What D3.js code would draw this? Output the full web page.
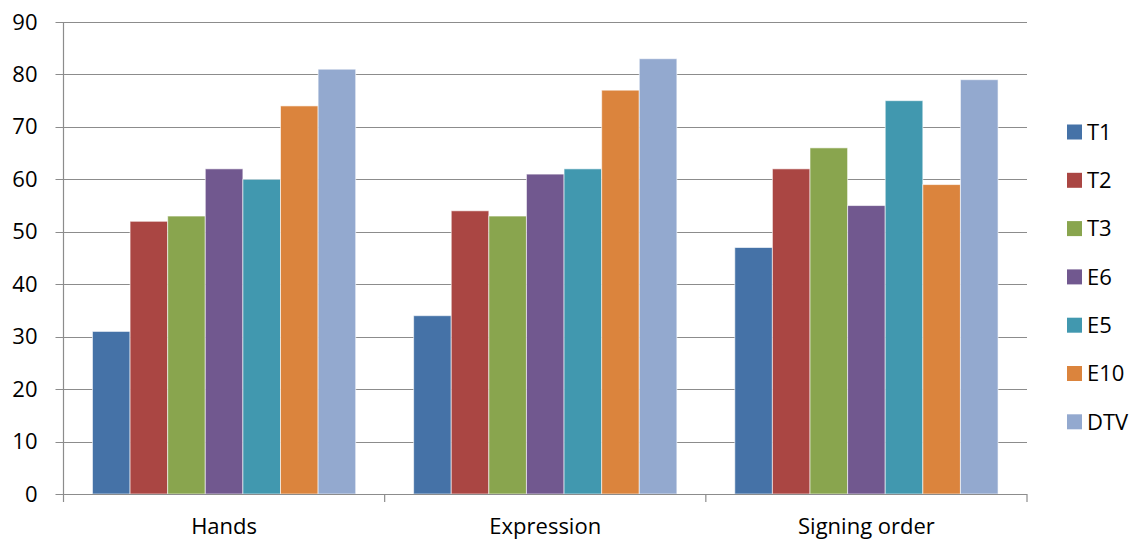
<!DOCTYPE html>
<html><head><meta charset="utf-8">
<script src="https://cdn.jsdelivr.net/npm/d3@7"></script>
<style>body{margin:0;background:#fff}svg{display:block}text{font-family:"Open Sans",Lato,sans-serif;fill:#000}</style>
</head><body><svg id="c" width="1138" height="544"></svg>
<script>
const categories = ["Hands", "Expression", "Signing order"];
const seriesNames = ["T1", "T2", "T3", "E6", "E5", "E10", "DTV"];
const T1 = [31, 34, 47];
const T2 = [52, 54, 62];
const T3 = [53, 53, 66];
const E6 = [62, 61, 55];
const E5 = [60, 62, 75];
const E10 = [74, 77, 59];
const DTV = [81, 83, 79];
const colors = ["#4572A7", "#AA4643", "#89A54E", "#71588F", "#4198AF", "#DB843D", "#93A9CF"];
const yTicks = [0, 10, 20, 30, 40, 50, 60, 70, 80, 90];

const seriesVals = [T1, T2, T3, E6, E5, E10, DTV];
const FONT = "22px";
const svg = d3.select("#c");
const L = 63.5, R = 1027, T = 22, B = 494;
const x0 = d3.scaleBand().domain(categories).range([L, R]).paddingInner(0).paddingOuter(0);
const x1 = d3.scaleBand().domain(seriesNames).range([0, x0.bandwidth()]).paddingOuter(0.77).paddingInner(0);
const y = d3.scaleLinear().domain([0, 90]).range([B, T]);

// gridlines
svg.append("g").selectAll("line").data(yTicks).join("line")
  .attr("x1", L - 8).attr("x2", R).attr("y1", d => Math.round(y(d)) + 0.5).attr("y2", d => Math.round(y(d)) + 0.5)
  .attr("stroke", "#8c8c8c").attr("stroke-width", 1.2);

// y axis labels
const ya = svg.append("g").attr("transform", `translate(${L},0)`)
  .call(d3.axisLeft(y).tickValues(yTicks).tickSize(0).tickPadding(26));
ya.select(".domain").remove();
ya.selectAll("text").style("font-size", FONT).style("font-family", "Open Sans").attr("fill", "#000");

// bars
const groups = svg.append("g").selectAll("g").data(categories).join("g")
  .attr("transform", c => `translate(${x0(c)},0)`);
groups.selectAll("rect").data((c, ci) => seriesNames.map((s, si) => ({s, si, v: seriesVals[si][ci]})))
  .join("rect")
  .attr("x", d => x1(d.s)).attr("width", x1.bandwidth())
  .attr("y", d => y(d.v)).attr("height", d => y(0) - y(d.v))
  .attr("fill", d => colors[d.si])
  .attr("stroke", "rgba(255,255,255,0.6)").attr("stroke-width", 1);

// axes lines
svg.append("line").attr("x1", L).attr("x2", L).attr("y1", T).attr("y2", B).attr("stroke", "#8c8c8c").attr("stroke-width", 1.2);
svg.append("line").attr("x1", L).attr("x2", R).attr("y1", B + 0.5).attr("y2", B + 0.5).attr("stroke", "#8c8c8c").attr("stroke-width", 1.2);
const xa = svg.append("g").attr("transform", `translate(0,${B})`)
  .call(d3.axisBottom(x0).tickSize(0).tickPadding(24));
xa.select(".domain").remove();
xa.selectAll("text").style("font-size", FONT).style("font-family", "Open Sans").attr("fill", "#000");
// category boundary ticks
const bounds = categories.map(c => x0(c)).concat([R]);
svg.append("g").selectAll("line").data(bounds).join("line")
  .attr("x1", d => d).attr("x2", d => d).attr("y1", B).attr("y2", B + 8)
  .attr("stroke", "#8c8c8c").attr("stroke-width", 1.2);

// legend
const lg = svg.append("g").selectAll("g").data(seriesNames).join("g")
  .attr("transform", (d, i) => `translate(1067,${132 + i * 48.3})`);
lg.append("rect").attr("x", 0).attr("y", -7.5).attr("width", 15).attr("height", 15).attr("fill", (d, i) => colors[i]);
lg.append("text").attr("x", 20).attr("y", 0).attr("dy", "0.35em").style("font-size", FONT).text(d => d);
</script></body></html>
